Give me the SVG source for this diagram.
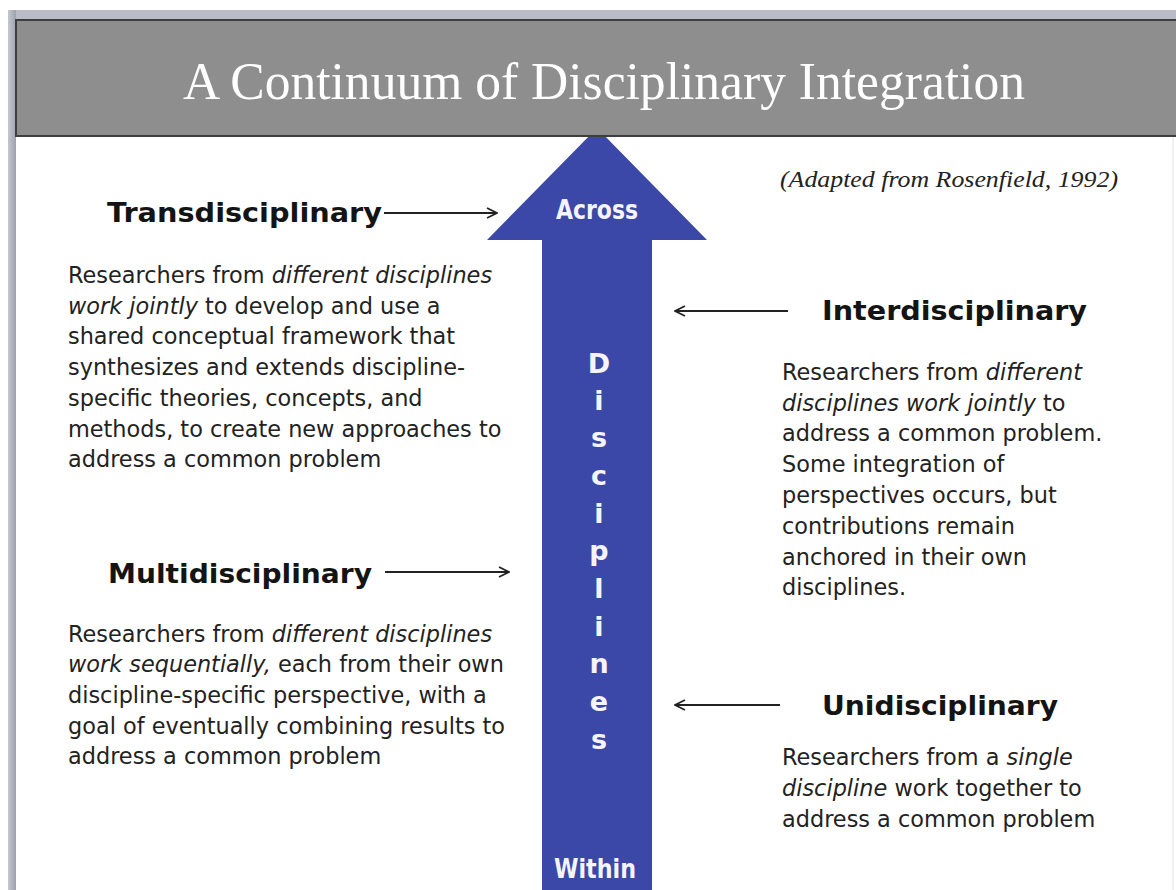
<svg xmlns="http://www.w3.org/2000/svg" width="1176" height="890" viewBox="0 0 1176 890">
  <defs>
    <marker id="chev" viewBox="0 0 12 12" refX="11" refY="6" markerWidth="12" markerHeight="12" markerUnits="userSpaceOnUse" orient="auto">
      <path d="M1,1 L11,6 L1,11" fill="none" stroke="#222" stroke-width="1.8"/>
    </marker>
    <linearGradient id="strip" x1="0" y1="0" x2="1" y2="0">
      <stop offset="0" stop-color="#c4c7d0"/>
      <stop offset="1" stop-color="#9ea2ae"/>
    </linearGradient>
  </defs>
  <style>
    .head { font-family: "DejaVu Sans", Verdana, sans-serif; font-weight: bold; font-size: 26px; fill: #141414; }
    .body { font-family: "DejaVu Sans", Verdana, sans-serif; font-size: 22.4px; fill: #222222; }
    .it { font-style: italic; }
    .lbl { font-family: "DejaVu Sans", Verdana, sans-serif; fill: #f4f4fa; font-weight: bold; }
    .conn { stroke: #222222; stroke-width: 1.8; fill: none; marker-end: url(#chev); }
  </style>
  <rect x="0" y="0" width="1176" height="890" fill="#ffffff"/>
  <!-- frame -->
  <rect x="8" y="10" width="1168" height="10" fill="#b9bcc6"/>
  <rect x="8" y="10" width="8" height="880" fill="url(#strip)"/>
  <line x1="1173" y1="136" x2="1173" y2="890" stroke="#e2e2e2" stroke-width="1"/>

  <!-- big arrow -->
  <g id="arrow">
    <polygon points="597,128 707,240 652,240 652,890 542,890 542,240 487,240" fill="#3b48a8"/>
    <text class="lbl" x="597" y="219" font-size="26" text-anchor="middle" textLength="82" lengthAdjust="spacingAndGlyphs">Across</text>
    <text class="lbl" x="595" y="878" font-size="26" text-anchor="middle" textLength="82" lengthAdjust="spacingAndGlyphs">Within</text>
    <g class="lbl" font-size="27" text-anchor="middle">
      <text x="599" y="373">D</text>
      <text x="599" y="410">i</text>
      <text x="599" y="447">s</text>
      <text x="599" y="485">c</text>
      <text x="599" y="523">i</text>
      <text x="599" y="560">p</text>
      <text x="599" y="598">l</text>
      <text x="599" y="636">i</text>
      <text x="599" y="673">n</text>
      <text x="599" y="711">e</text>
      <text x="599" y="749">s</text>
    </g>
  </g>

  <!-- header -->
  <g id="header">
    <rect x="16" y="20" width="1162" height="116" fill="#8e8e8e" stroke="#3e3e3e" stroke-width="2"/>
    <text x="604" y="99" font-family="'Liberation Serif', 'Times New Roman', serif" font-size="52" fill="#ffffff" text-anchor="middle" textLength="842" lengthAdjust="spacingAndGlyphs">A Continuum of Disciplinary Integration</text>
  </g>

  <g id="citation">
    <text x="780" y="187" font-family="'Liberation Serif', 'Times New Roman', serif" font-style="italic" font-size="23" fill="#222222" textLength="338" lengthAdjust="spacingAndGlyphs">(Adapted from Rosenfield, 1992)</text>
  </g>

  <!-- connectors -->
  <g id="connectors">
    <line class="conn" x1="384" y1="213" x2="497" y2="213"/>
    <line class="conn" x1="385" y1="572" x2="509" y2="572"/>
    <line class="conn" x1="788" y1="311" x2="675" y2="311"/>
    <line class="conn" x1="780" y1="705" x2="675" y2="705"/>
  </g>

  <g id="transdisciplinary">
    <text class="head" x="107" y="222" textLength="275" lengthAdjust="spacingAndGlyphs">Transdisciplinary</text>
    <text class="body" x="68" y="283">Researchers from <tspan class="it">different disciplines</tspan></text>
    <text class="body" x="68" y="314"><tspan class="it">work jointly</tspan> to develop and use a</text>
    <text class="body" x="68" y="344">shared conceptual framework that</text>
    <text class="body" x="68" y="375">synthesizes and extends discipline-</text>
    <text class="body" x="68" y="406">specific theories, concepts, and</text>
    <text class="body" x="68" y="437">methods, to create new approaches to</text>
    <text class="body" x="68" y="467">address a common problem</text>
  </g>

  <g id="multidisciplinary">
    <text class="head" x="108" y="583" textLength="264" lengthAdjust="spacingAndGlyphs">Multidisciplinary</text>
    <text class="body" x="68" y="642">Researchers from <tspan class="it">different disciplines</tspan></text>
    <text class="body" x="68" y="672"><tspan class="it">work sequentially,</tspan> each from their own</text>
    <text class="body" x="68" y="703">discipline-specific perspective, with a</text>
    <text class="body" x="68" y="734">goal of eventually combining results to</text>
    <text class="body" x="68" y="764">address a common problem</text>
  </g>

  <g id="interdisciplinary">
    <text class="head" x="822" y="320" textLength="265" lengthAdjust="spacingAndGlyphs">Interdisciplinary</text>
    <text class="body" x="782" y="380">Researchers from <tspan class="it">different</tspan></text>
    <text class="body" x="782" y="411"><tspan class="it">disciplines work jointly</tspan> to</text>
    <text class="body" x="782" y="441">address a common problem.</text>
    <text class="body" x="782" y="472">Some integration of</text>
    <text class="body" x="782" y="503">perspectives occurs, but</text>
    <text class="body" x="782" y="534">contributions remain</text>
    <text class="body" x="782" y="565">anchored in their own</text>
    <text class="body" x="782" y="595">disciplines.</text>
  </g>

  <g id="unidisciplinary">
    <text class="head" x="822" y="715" textLength="236" lengthAdjust="spacingAndGlyphs">Unidisciplinary</text>
    <text class="body" x="782" y="765">Researchers from a <tspan class="it">single</tspan></text>
    <text class="body" x="782" y="796"><tspan class="it">discipline</tspan> work together to</text>
    <text class="body" x="782" y="827">address a common problem</text>
  </g>
</svg>
